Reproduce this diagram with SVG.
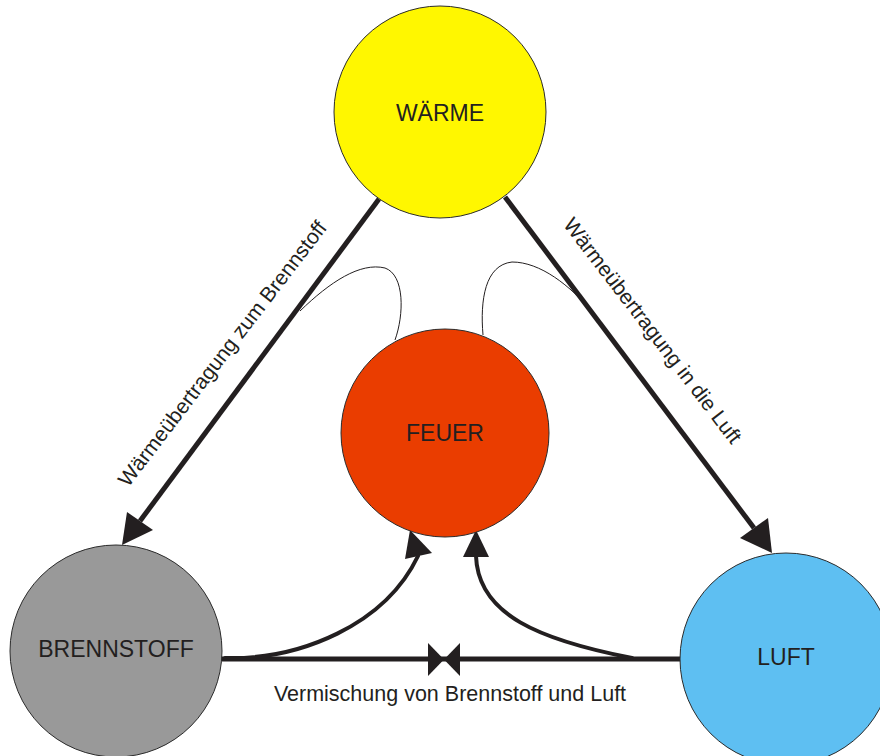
<svg xmlns="http://www.w3.org/2000/svg" width="880" height="756" viewBox="0 0 880 756">
<style>
.node{stroke:#2b2b2b;stroke-width:1}
.lbl{font-family:"Liberation Sans",Arial,sans-serif;fill:#231f20;text-anchor:middle}
.nl{font-size:23px}
.el{font-size:21px}
.thick{stroke:#231f20;stroke-width:5;fill:none}
.curve{stroke:#231f20;stroke-width:4;fill:none;stroke-linecap:round}
.thin{stroke:#231f20;stroke-width:1;fill:none}
.head{fill:#231f20}
</style>
<rect width="880" height="756" fill="#ffffff"/>
<g id="connectors">
  <path class="thin" d="M300,311 C330,282 360,262 385,268 C405,275 404,315 395,340"/>
  <path class="thin" d="M483,335 C480,300 485,265 512,262 C540,262 570,285 594,314"/>
  <line class="thick" x1="379" y1="199" x2="140" y2="521"/>
  <polygon class="head" points="122,545 127,512 153,530"/>
  <line class="thick" x1="505" y1="197" x2="754" y2="528"/>
  <polygon class="head" points="772,553 768,518 740,538"/>
  <line class="thick" x1="220" y1="659" x2="682" y2="659"/>
  <polygon class="head" points="428,643 428,676 444,659.5"/>
  <polygon class="head" points="460,643 460,676 444,659.5"/>
  <path class="curve" d="M225,658 C300,660 385,625 418,556"/>
  <polygon class="head" points="410,530 405,559 432,553"/>
  <path class="curve" d="M632,658 C540,640 478,615 476,556"/>
  <polygon class="head" points="476,530 463,557 489,557"/>
  <text class="lbl el" transform="translate(228,358) rotate(-52.5)">Wärmeübertragung zum Brennstoff</text>
  <text class="lbl el" transform="translate(647,335) rotate(52.5)">Wärmeübertragung in die Luft</text>
  <text class="lbl el" x="450" y="701" style="font-size:21.5px">Vermischung von Brennstoff und Luft</text>
</g>
<g id="waerme">
  <circle class="node" cx="440" cy="112" r="106" fill="#fff700"/>
  <text class="lbl nl" x="440" y="121">WÄRME</text>
</g>
<g id="feuer">
  <circle class="node" cx="445" cy="433" r="104" fill="#ea3d00"/>
  <text class="lbl nl" x="445" y="441">FEUER</text>
</g>
<g id="brennstoff">
  <circle class="node" cx="116" cy="651" r="106" fill="#999999"/>
  <text class="lbl nl" x="116" y="657">BRENNSTOFF</text>
</g>
<g id="luft">
  <circle class="node" cx="786" cy="659" r="106" fill="#5ebff2"/>
  <text class="lbl nl" x="786" y="665">LUFT</text>
</g>
</svg>
